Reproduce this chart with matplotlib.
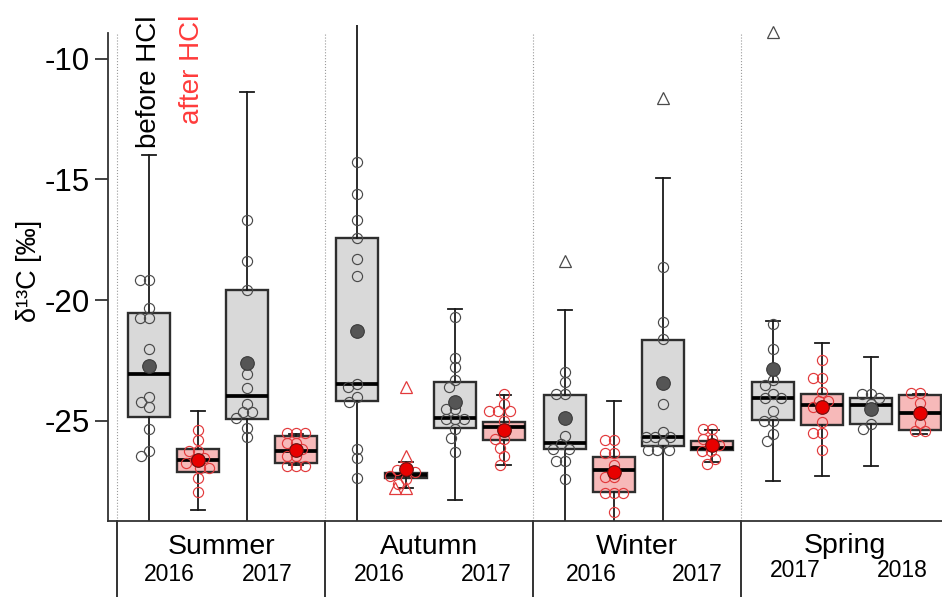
#!/usr/bin/env python3
'''Seasonal d13C box plots, before and after HCl treatment.'''

import numpy as np
import matplotlib
matplotlib.use('Agg')
import matplotlib.pyplot as plt

plt.rcParams['font.family'] = ['Liberation Sans', 'DejaVu Sans']

seasons = ['Summer', 'Autumn', 'Winter', 'Spring']
years = [['2016', '2017'], ['2016', '2017'], ['2016', '2017'], ['2017', '2018']]

# one entry per box: season -> year -> (before, after)
q3 = [-20.55, -26.16, -19.58, -25.63,
      -17.44, -27.15, -23.39, -25.03,
      -23.91, -26.50, -21.64, -25.84,
      -23.39, -23.88, -24.06, -23.92]
medians = [-23.04, -26.64, -23.99, -26.23,
           -23.46, -27.25, -24.90, -25.24,
           -25.91, -27.03, -25.66, -26.12,
           -24.06, -24.33, -24.33, -24.68]
q1 = [-24.86, -27.14, -24.93, -26.75,
      -24.19, -27.35, -25.28, -25.80,
      -26.16, -27.94, -26.05, -26.19,
      -24.97, -25.18, -25.14, -25.39]
whisker_hi = [-13.98, -24.61, -11.37, -25.53,
              -8.40, -26.72, -20.35, -23.95,
              -20.42, -24.19, -14.94, -25.38,
              -20.87, -21.78, -22.37, -23.88]
whisker_lo = [-29.50, -28.71, -29.50, -26.82,
              -29.50, -27.77, -28.26, -26.82,
              -29.50, -29.40, -29.50, -26.72,
              -27.48, -27.28, -26.86, -25.53]
means = [-22.73, -26.61, -22.62, -26.19,
         -21.26, -27.00, -24.20, -25.38,
         -24.89, -27.13, -23.43, -26.02,
         -22.86, -24.41, -24.51, -24.68]

samples = [
    [-19.16, -19.16, -20.31, -20.73, -20.73, -22.03, -24.02, -24.23, -24.44,
     -25.32, -26.23, -26.44],
    [-25.39, -25.81, -26.26, -26.26, -26.55, -26.64, -26.75, -26.96, -26.96,
     -27.38, -27.94],
    [-16.67, -18.38, -19.57, -23.08, -23.64, -24.30, -24.65, -24.65, -24.90,
     -25.28, -25.67],
    [-25.49, -25.49, -25.49, -25.90, -25.90, -26.18, -26.47, -26.47, -26.86,
     -26.86, -26.86],
    [-14.29, -15.62, -16.69, -17.41, -18.28, -19.02, -23.46, -23.60, -24.00,
     -24.20, -26.16, -26.54, -27.38],
    [-27.00, -27.05, -27.10, -27.30, -27.40, -27.60],
    [-20.70, -22.38, -22.76, -23.32, -23.60, -24.51, -24.51, -24.93, -24.93,
     -24.93, -25.35, -25.70, -26.29],
    [-23.88, -24.30, -24.58, -24.58, -24.58, -25.00, -25.38, -25.77, -25.77,
     -26.12, -26.47, -26.82],
    [-22.97, -23.39, -23.88, -23.88, -25.63, -25.98, -26.16, -26.16, -26.68,
     -26.68, -27.41],
    [-25.80, -25.80, -26.33, -26.33, -26.82, -27.31, -27.31, -28.01, -28.01,
     -28.01, -28.78],
    [-18.63, -20.91, -21.60, -24.30, -25.46, -25.67, -25.67, -25.67, -25.90,
     -26.19, -26.19, -26.19],
    [-25.35, -25.35, -25.77, -25.77, -26.02, -26.23, -26.23, -26.58, -26.78],
    [-20.97, -22.02, -23.32, -23.53, -23.88, -24.06, -24.06, -24.58, -25.00,
     -25.00, -25.56, -25.84],
    [-22.48, -23.22, -23.22, -23.80, -24.16, -24.16, -24.44, -25.04, -25.49,
     -25.49, -26.19],
    [-23.88, -23.88, -24.06, -24.30, -25.14, -25.35],
    [-23.84, -23.84, -24.25, -24.68, -25.11, -25.42, -25.42],
]

outliers = [
    [], [], [], [],
    [], [-23.60, -26.47, -27.80, -27.80], [], [],
    [-18.38], [], [-11.62], [],
    [-8.89], [], [], [],
]

# layout in data units (one box slot = 1)
SEASON_W = 4.245
PX_X = 49.0     # px per x unit
PX_Y = 24.14    # px per y unit
YMIN, YMAX = -29.15, -8.6

# year label centres, px from the left edge of each season block
YEAR_X_PX = [[52, 150.5], [54, 161], [58, 164], [54.5, 161]]

GREY_FILL, RED_FILL = '#d9d9d9', '#f7b9b9'
GREY_EDGE, RED_EDGE = '#4a4a4a', '#e23a3c'


def swarm_offsets(vals, diam=9.0):
    '''Spread points sideways so the markers do not overlap (pixel space).'''
    cands = sorted(np.arange(-30, 30.5, 0.5), key=lambda d: (abs(d), d))
    placed = []
    for v in vals:
        y = v * PX_Y
        for dx in cands:
            if all((dx - px) ** 2 + (y - py) ** 2 >= diam ** 2 for px, py in placed):
                break
        placed.append((dx, y))
    return np.array([p[0] for p in placed]) / PX_X


fig = plt.figure(figsize=(9.42, 5.97), dpi=100)
ax = fig.add_axes([107.5 / 942, 1 - 521 / 597, (942 - 107.5) / 942, 496 / 597])

positions = []
for s in range(len(seasons)):
    for j in range(4):
        positions.append(s * SEASON_W + 0.65 + j)

stats = []
for i in range(len(positions)):
    stats.append(dict(med=medians[i], q1=q1[i], q3=q3[i],
                      whislo=whisker_lo[i], whishi=whisker_hi[i],
                      fliers=[]))

bp = ax.bxp(stats, positions=positions, widths=0.85, capwidths=0.3,
            patch_artist=True, showfliers=False,
            boxprops=dict(edgecolor='#2e2e2e', linewidth=1.7),
            medianprops=dict(color='black', linewidth=2.7),
            whiskerprops=dict(color='#1a1a1a', linewidth=1.3),
            capprops=dict(color='#1a1a1a', linewidth=1.3))

for i, patch in enumerate(bp['boxes']):
    patch.set_facecolor(GREY_FILL if i % 2 == 0 else RED_FILL)

for i, x in enumerate(positions):
    edge = GREY_EDGE if i % 2 == 0 else RED_EDGE
    vals = samples[i]
    ax.plot(x + swarm_offsets(vals), vals, 'o', ms=7.3, mfc='none',
            mec=edge, mew=0.85, zorder=4)
    if outliers[i]:
        ov = outliers[i]
        ax.plot(x + swarm_offsets(ov, diam=11), ov, '^', ms=8.5, mfc='none',
                mec=edge, mew=0.9, zorder=4, clip_on=False)
    if i % 2 == 0:
        ax.plot(x, means[i], 'o', ms=9.8, mfc='#555555', mec='#3a3a3a',
                mew=0.8, zorder=5)
    else:
        ax.plot(x, means[i], 'o', ms=9.8, mfc='#e80000', mec='#6a1010',
                mew=0.8, zorder=5)

# season separators
for s in range(len(seasons)):
    x0 = s * SEASON_W
    ax.plot([x0, x0], [YMIN, -8.95], ls=':', color='#9a9a9a', lw=0.8, zorder=0)
    ax.plot([x0, x0], [0, -0.16], color='#111111', lw=1.2,
            transform=ax.get_xaxis_transform(), clip_on=False)

# season and year labels under the axis
xt = ax.get_xaxis_transform()
for s, name in enumerate(seasons):
    spring = name == 'Spring'
    ax.text(s * SEASON_W + SEASON_W / 2, -0.050 if spring else -0.052, name,
            transform=xt, ha='center', va='center', fontsize=20.5)
    for k, yr in enumerate(years[s]):
        xc = s * SEASON_W + YEAR_X_PX[s][k] / PX_X
        ax.text(xc, -0.099 if spring else -0.107, yr, transform=xt,
                ha='center', va='center', fontsize=16.5)

ax.text(positions[0], 1.02, 'before HCl', transform=xt, rotation=90,
        ha='center', va='top', fontsize=20, color='black')
ax.text(positions[1] - 0.11, 1.02, 'after HCl', transform=xt, rotation=90,
        ha='center', va='top', fontsize=20, color='#ff3b3b')

ax.set_xlim(-0.194, 16.837)
ax.set_ylim(YMIN, YMAX)
ax.set_yticks([-10, -15, -20, -25])
ax.set_yticklabels(['-10', '-15', '-20', '-25'])
ax.tick_params(axis='y', labelsize=22.5, length=9.5, width=1.3, color='#333333')
ax.tick_params(axis='x', bottom=False, labelbottom=False)
ax.set_ylabel('δ¹³C [‰]', fontsize=19.5)
ax.yaxis.set_label_coords(-0.078, 0.504)

for side in ['top', 'right']:
    ax.spines[side].set_visible(False)
ax.spines['left'].set_bounds(YMIN, -8.95)
ax.spines['left'].set_color('#333333')
ax.spines['left'].set_linewidth(1.3)
ax.spines['bottom'].set_color('#333333')
ax.spines['bottom'].set_linewidth(1.3)

fig.savefig('out.png', dpi=100)
